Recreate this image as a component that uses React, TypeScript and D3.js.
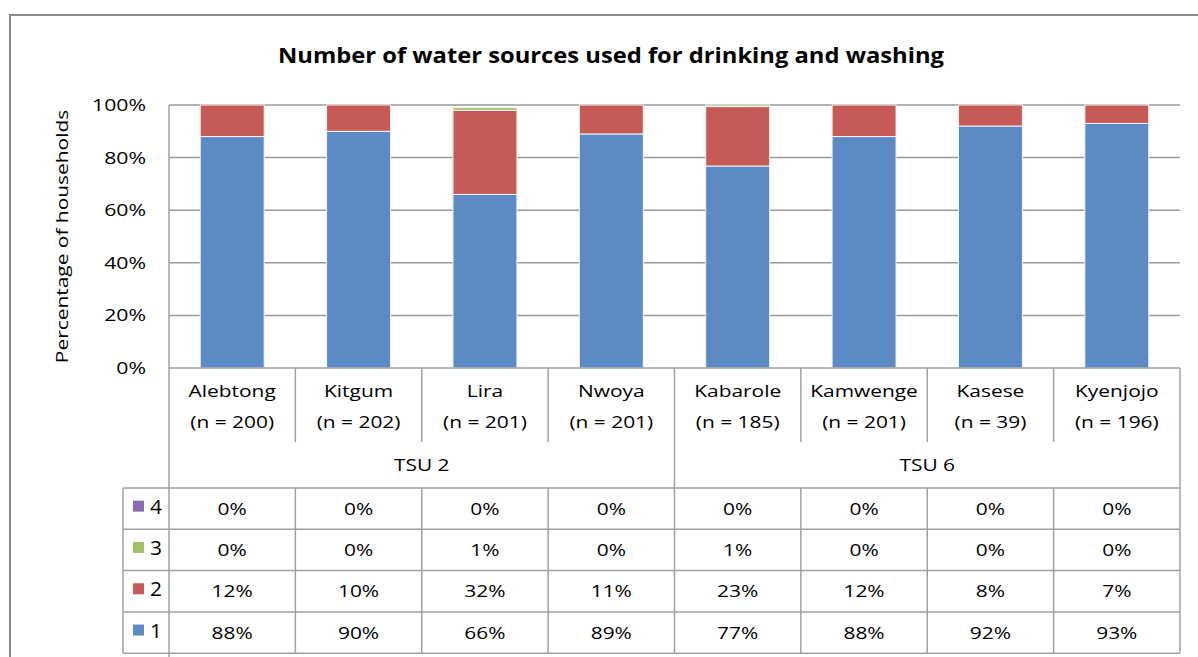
import React from "react";
import * as d3 from "d3";

const districts = ["Alebtong", "Kitgum", "Lira", "Nwoya", "Kabarole", "Kamwenge", "Kasese", "Kyenjojo"];
const sampleSizes = [200, 202, 201, 201, 185, 201, 39, 196];
const regions = ["TSU 2", "TSU 6"];
const regionSpans = [4, 4];

// share of households (%) by number of sources used
const oneSource = [88, 90, 66, 89, 76.8, 88, 92, 93];
const twoSources = [12, 10, 32, 11, 22.6, 12, 8, 7];
const threeSources = [0, 0, 1, 0, 0.6, 0, 0, 0];
const fourSources = [0, 0, 0, 0, 0, 0, 0, 0];

const seriesNames = ["1", "2", "3", "4"];
const seriesColors = ["#5B8AC4", "#C55A57", "#A2C164", "#8A6DAF"];
const yTicks = [0, 20, 40, 60, 80, 100];

const W = 1198;
const H = 657;
const FONT = "'Open Sans', 'DejaVu Sans', sans-serif";

// text drawn with a slight horizontal stretch (wide, Calibri-like proportions)
function Txt({
  x,
  y,
  children,
  anchor = "middle",
  size = 17,
  sx = 1.23,
  weight = "normal",
  rotate = 0,
  dy = "0.35em",
}: {
  x: number;
  y: number;
  children: React.ReactNode;
  anchor?: string;
  size?: number;
  sx?: number;
  weight?: string;
  rotate?: number;
  dy?: string;
}) {
  return (
    <text
      transform={`translate(${x},${y}) rotate(${rotate}) scale(${sx},1)`}
      textAnchor={anchor}
      fontSize={size}
      fontWeight={weight}
      dy={dy}
      fill="#000"
    >
      {children}
    </text>
  );
}

export default function App() {
  const left = 169;
  const right = 1180;
  const top = 105;
  const bottom = 368;
  const legendLeft = 123;
  const catRowBottom = 442;
  const groupRowBottom = 488;
  const rowH = 41.3;

  const x = d3
    .scaleBand<string>()
    .domain(districts)
    .range([left, right])
    .paddingInner(0.494)
    .paddingOuter(0.247);
  const step = x.step();
  const colLeft = (i: number) => left + i * step;

  const y = d3.scaleLinear().domain([0, 100]).range([bottom, top]);

  const rows = districts.map((d, i) => ({
    district: d,
    "1": oneSource[i],
    "2": twoSources[i],
    "3": threeSources[i],
    "4": fourSources[i],
  }));
  const stacked = d3.stack<any>().keys(seriesNames)(rows);

  const tableSeries = [
    { name: "4", values: fourSources, color: seriesColors[3] },
    { name: "3", values: threeSources, color: seriesColors[2] },
    { name: "2", values: twoSources, color: seriesColors[1] },
    { name: "1", values: oneSource, color: seriesColors[0] },
  ];
  const pct = (v: number) => `${Math.round(v)}%`;

  const gridColor = "#9a9a9a";
  const tableLine = "#a0a0a0";

  let regionStart = 0;
  const regionCells = regions.map((r, k) => {
    const s = regionStart;
    regionStart += regionSpans[k];
    return { label: r, x0: colLeft(s), x1: colLeft(regionStart) };
  });

  return (
    <svg width={W} height={H} style={{ display: "block", position: "absolute", left: 0, top: 0 }} fontFamily={FONT}>
      <rect x={0} y={0} width={W} height={H} fill="#fff" />
      <rect x={10} y={15} width={1210} height={680} fill="none" stroke="#8a8a8a" strokeWidth={2} />

      <Txt x={611} y={55} size={22} sx={1.08} weight="bold">
        Number of water sources used for drinking and washing
      </Txt>

      <Txt x={62} y={(top + bottom) / 2} rotate={-90} sx={1.23}>
        Percentage of households
      </Txt>

      {yTicks.map((t) => (
        <g key={t}>
          {t > 0 && <line x1={left} x2={right} y1={y(t)} y2={y(t)} stroke={gridColor} strokeWidth={1.5} />}
          <Txt x={146} y={y(t)} anchor="end" sx={1.25}>
            {`${t}%`}
          </Txt>
        </g>
      ))}

      {stacked.map((layer, si) => (
        <g key={layer.key} fill={seriesColors[si]}>
          {layer.map((seg, i) =>
            seg[1] - seg[0] > 0 ? (
              <rect
                key={i}
                x={x(districts[i])}
                y={y(seg[1])}
                width={x.bandwidth()}
                height={y(seg[0]) - y(seg[1])}
                stroke="#f4f4f4"
                strokeWidth={1}
              />
            ) : null
          )}
        </g>
      ))}

      {/* axes frame */}
      <line x1={left} x2={left} y1={top} y2={H} stroke={tableLine} strokeWidth={1.5} />
      <line x1={left} x2={right} y1={bottom} y2={bottom} stroke={tableLine} strokeWidth={1.5} />
      <line x1={right} x2={right} y1={bottom} y2={653} stroke={tableLine} strokeWidth={1.5} />

      {/* category labels */}
      {districts.map((d, i) => (
        <g key={d}>
          <Txt x={colLeft(i) + step / 2} y={391}>
            {d}
          </Txt>
          <Txt x={colLeft(i) + step / 2} y={422}>
            {`(n = ${sampleSizes[i]})`}
          </Txt>
          {i > 0 && (
            <line
              x1={colLeft(i)}
              x2={colLeft(i)}
              y1={bottom}
              y2={i % 4 === 0 ? groupRowBottom : catRowBottom}
              stroke={tableLine}
              strokeWidth={1.5}
            />
          )}
        </g>
      ))}

      {regionCells.map((r) => (
        <Txt key={r.label} x={(r.x0 + r.x1) / 2} y={465}>
          {r.label}
        </Txt>
      ))}

      {/* data table */}
      {tableSeries.map((s, ri) => {
        const ry = groupRowBottom + ri * rowH;
        return (
          <g key={s.name}>
            <line x1={legendLeft} x2={right} y1={ry} y2={ry} stroke={tableLine} strokeWidth={1.5} />
            <rect x={133} y={ry + rowH / 2 - 8} width={11} height={11} fill={s.color} />
            <Txt x={150} y={ry + rowH / 2 - 2} anchor="start" size={20} sx={1.05}>
              {s.name}
            </Txt>
            {s.values.map((v, i) => (
              <Txt key={i} x={colLeft(i) + step / 2} y={ry + rowH / 2}>
                {pct(v)}
              </Txt>
            ))}
          </g>
        );
      })}
      <line x1={legendLeft} x2={right} y1={groupRowBottom + 4 * rowH} y2={groupRowBottom + 4 * rowH} stroke={tableLine} strokeWidth={1.5} />
      <line x1={legendLeft} x2={legendLeft} y1={groupRowBottom} y2={groupRowBottom + 4 * rowH} stroke={tableLine} strokeWidth={1.5} />
      {districts.map((d, i) =>
        i > 0 ? (
          <line key={d} x1={colLeft(i)} x2={colLeft(i)} y1={groupRowBottom} y2={groupRowBottom + 4 * rowH} stroke={tableLine} strokeWidth={1.5} />
        ) : null
      )}
    </svg>
  );
}
